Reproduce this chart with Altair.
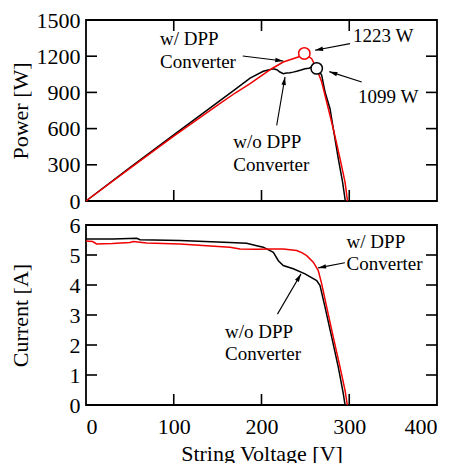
import math
import altair as alt
import pandas as pd

# ---------------- data ----------------
# Power vs string voltage
pw_dpp_v = [0, 50, 100, 150, 170, 187, 198, 211.6, 224.8, 241.9, 248.8, 257.2, 262.9, 268.6, 274.3, 281.8, 289.5, 295.2, 298]
pw_dpp_p = [0, 271, 537, 795, 895, 972, 1028, 1096, 1152, 1193, 1223, 1179, 1096, 986, 820, 599, 351, 157, 0]

pw_no_v = [0, 50, 100, 150, 170, 187, 202, 213.5, 217.5, 221, 224.8, 228.5, 232.5, 236, 240.1, 245, 249.6, 254, 257.2, 260, 262.9, 265.5, 268.6, 272.4, 278.1, 281.8, 287.5, 292.4, 295.5]
pw_no_p = [0, 276, 548, 817, 925, 1019, 1075, 1096, 1088, 1069, 1055, 1060, 1063, 1068, 1075, 1085, 1096, 1100, 1110, 1102, 1099, 1080, 1041, 903, 765, 599, 351, 157, 0]

# Current vs string voltage
cu_dpp_v = [0, 7.6, 12, 30, 50, 54, 69, 107, 137.5, 164, 175.5, 194.6, 210, 224.8, 240.1, 246, 251.5, 259, 264.7, 268.6, 274.3, 281.8, 289.5, 295.2, 297.8]
cu_dpp_i = [5.47, 5.45, 5.37, 5.38, 5.42, 5.45, 5.40, 5.37, 5.31, 5.26, 5.20, 5.19, 5.20, 5.20, 5.15, 5.08, 4.98, 4.76, 4.48, 4.04, 3.26, 2.26, 1.26, 0.49, 0]

cu_no_v = [0, 31, 57.8, 61.6, 107, 164, 183, 194.6, 202, 213.5, 219.2, 224.8, 236.2, 249.6, 262.9, 266.7, 272.4, 280, 287.5, 293.2, 295.2]
cu_no_i = [5.53, 5.53, 5.56, 5.51, 5.48, 5.42, 5.39, 5.31, 5.26, 5.09, 4.81, 4.65, 4.54, 4.37, 4.15, 3.98, 3.26, 2.26, 1.26, 0.38, 0]

# maximum power points
mpp_v = [248.8, 262.9]
mpp_p = [1223, 1099]
mpp_c = ["#f00000", "#000000"]

# annotations (data coordinates)
top_text = ["w/ DPP", "Converter", "1223 W", "1099 W", "w/o DPP", "Converter"]
top_text_v = [84.3, 84.3, 304.3, 310, 167.9, 167.9]
top_text_p = [1340, 1155, 1365, 862, 489, 298]
top_arr_v1 = [178.6, 300.9, 314.2, 217.3]
top_arr_p1 = [1202, 1304, 986, 627]
top_arr_v2 = [224.8, 261.0, 277.3, 226.8]
top_arr_p2 = [1160, 1249, 1072, 1028]

bot_text = ["w/ DPP", "Converter", "w/o DPP", "Converter"]
bot_text_v = [297, 297, 158.4, 158.4]
bot_text_i = [5.45, 4.70, 2.43, 1.71]
bot_arr_v1 = [295, 218.2]
bot_arr_i1 = [4.74, 3.03]
bot_arr_v2 = [264.5, 245]
bot_arr_i2 = [4.57, 4.37]

x_ticks = [0, 100, 200, 300, 400]
p_ticks = [0, 300, 600, 900, 1200, 1500]
i_ticks = [0, 1, 2, 3, 4, 5, 6]

# ---------------- layout ----------------
W, HT, HB = 351, 181, 180
FONT = "'Liberation Serif', 'Times New Roman', serif"
TL = 11  # inward tick length
kx = W / 400

def angle(x1, y1, x2, y2, ky):
    dx = (x2 - x1) * kx
    dy = -(y2 - y1) * ky
    return math.degrees(math.atan2(dx, -dy)) % 360

xs = alt.Scale(domain=[0, 400], nice=False, zero=False)
ps = alt.Scale(domain=[0, 1500], nice=False)
cs = alt.Scale(domain=[0, 6], nice=False)

def y_axis(title, values, tpad):
    return alt.Axis(title=title, values=values, format="d", ticks=False, tickSize=0, domain=False,
                    grid=False, labelPadding=6, titlePadding=tpad)

p_axis = y_axis("Power [W]", p_ticks, 4)
c_axis = y_axis("Current [A]", i_ticks, 37)
xb_axis = alt.Axis(title="String Voltage [V]", values=x_ticks, format="d", ticks=False, tickSize=0,
                   domain=False, grid=False, labelPadding=11, titlePadding=6)

def XT(f):
    return alt.X(f, type="quantitative", scale=xs, axis=None)

def XB(f):
    return alt.X(f, type="quantitative", scale=xs, axis=xb_axis)

def YT(f):
    return alt.Y(f, type="quantitative", scale=ps, axis=p_axis)

def YB(f):
    return alt.Y(f, type="quantitative", scale=cs, axis=c_axis)

head_shape = "M0,0L0.28,1L-0.28,1Z"

def panel(X, Y, curves, points, texts, arrows, yticks, ky, H, top_xticks):
    layers = []
    for v, y, col in curves:
        df = pd.DataFrame({"x": v, "y": y})
        layers.append(alt.Chart(df).mark_line(color=col, strokeWidth=1.5, interpolate="linear")
                      .encode(x=X("x"), y=Y("y")))
    if points is not None:
        pv, pp, pc = points
        df = pd.DataFrame({"x": pv, "y": pp, "c": pc})
        layers.append(alt.Chart(df).mark_point(shape="circle", filled=True, fill="white", size=130,
                                               strokeWidth=1.5, opacity=1)
                      .encode(x=X("x"), y=Y("y"), stroke=alt.Stroke("c:N", scale=None)))
    x1, y1, x2, y2 = arrows
    adf = pd.DataFrame({"x": x1, "y": y1, "x2": x2, "y2": y2})
    adf["a"] = [angle(a, b, c, d, ky) for a, b, c, d in zip(x1, y1, x2, y2)]
    layers.append(alt.Chart(adf).mark_rule(color="black", strokeWidth=1.1)
                  .encode(x=X("x"), y=Y("y"), x2="x2", y2="y2"))
    hdf = pd.DataFrame({"x": x2, "y": y2, "a": adf["a"]})
    layers.append(alt.Chart(hdf).mark_point(shape=head_shape, filled=True, color="black",
                                            size=256, opacity=1, strokeWidth=0)
                  .encode(x=X("x"), y=Y("y"), angle=alt.Angle("a:Q", scale=None)))
    t, tv, ty = texts
    tdf = pd.DataFrame({"t": t, "x": tv, "y": ty})
    layers.append(alt.Chart(tdf).mark_text(align="left", baseline="middle", font=FONT,
                                           fontSize=19, color="black")
                  .encode(x=X("x"), y=Y("y"), text="t:N"))
    # inward ticks
    ydf = pd.DataFrame({"y": yticks[1:-1]})
    layers.append(alt.Chart(ydf).mark_rule(color="black", strokeWidth=1.6)
                  .encode(y=Y("y"), x=alt.value(0), x2=alt.value(TL)))
    layers.append(alt.Chart(ydf).mark_rule(color="black", strokeWidth=1.6)
                  .encode(y=Y("y"), x=alt.value(W - TL), x2=alt.value(W)))
    xdf = pd.DataFrame({"x": x_ticks[1:-1]})
    layers.append(alt.Chart(xdf).mark_rule(color="black", strokeWidth=1.6)
                  .encode(x=X("x"), y=alt.value(H - TL), y2=alt.value(H)))
    if top_xticks:
        layers.append(alt.Chart(xdf).mark_rule(color="black", strokeWidth=1.6)
                      .encode(x=X("x"), y=alt.value(0), y2=alt.value(TL)))
    return alt.layer(*layers).properties(width=W, height=H)

top = panel(XT, YT,
            [(pw_no_v, pw_no_p, "#000000"), (pw_dpp_v, pw_dpp_p, "#f00000")],
            (mpp_v, mpp_p, mpp_c),
            (top_text, top_text_v, top_text_p),
            (top_arr_v1, top_arr_p1, top_arr_v2, top_arr_p2),
            p_ticks, HT / 1500, HT, True)

bottom = panel(XB, YB,
               [(cu_no_v, cu_no_i, "#000000"), (cu_dpp_v, cu_dpp_i, "#f00000")],
               None,
               (bot_text, bot_text_v, bot_text_i),
               (bot_arr_v1, bot_arr_i1, bot_arr_v2, bot_arr_i2),
               i_ticks, HB / 6, HB, False)

chart = (alt.vconcat(top, bottom, spacing=0)
         .properties(padding={"left": 0, "top": 0, "right": 5, "bottom": 0}, background="white")
         .configure_view(stroke="black", strokeWidth=1.8)
         .configure_text(font=FONT)
         .configure_axis(labelFont=FONT, titleFont=FONT, labelFontSize=22, titleFontSize=22,
                         labelColor="black", titleColor="black", titleFontWeight="normal"))

chart.save("out.html", embed_options={"renderer": "svg", "actions": False})
